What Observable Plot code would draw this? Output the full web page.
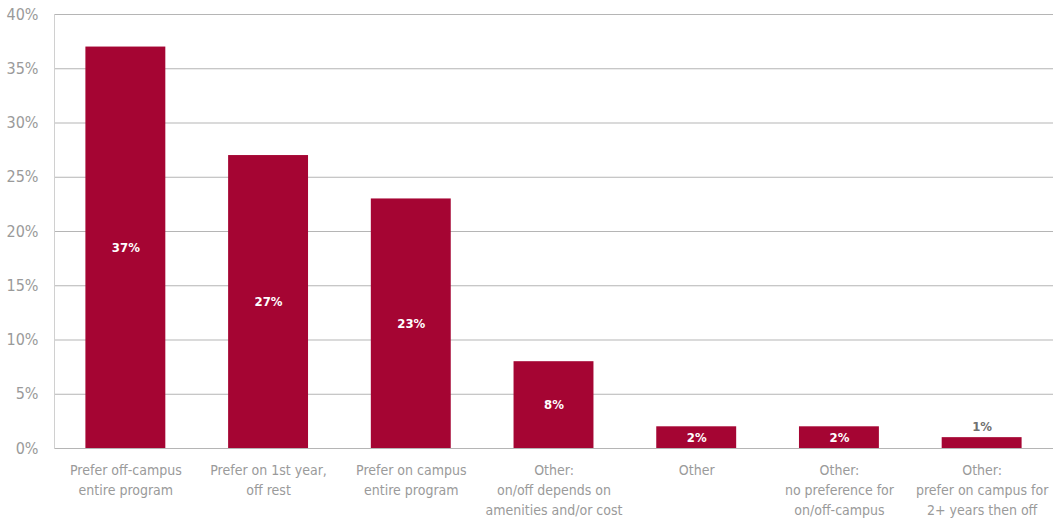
<!DOCTYPE html>
<html><head><meta charset="utf-8">
<script src="https://cdn.jsdelivr.net/npm/d3@7"></script>
<script src="https://cdn.jsdelivr.net/npm/@observablehq/plot@0.6"></script>
<style>
body{margin:0;background:#fff;}
</style></head>
<body><div id="chart"></div>
<script>
const categories = [
  "Prefer off-campus\nentire program",
  "Prefer on 1st year,\noff rest",
  "Prefer on campus\nentire program",
  "Other:\non/off depends on\namenities and/or cost",
  "Other",
  "Other:\nno preference for\non/off-campus",
  "Other:\nprefer on campus for\n2+ years then off"
];
const values = [37, 27, 23, 8, 2, 2, 1];
const yTicks = [0, 5, 10, 15, 20, 25, 30, 35, 40];

const data = categories.map((c, i) => ({cat: c, v: values[i]}));
const inside = data.filter(d => d.v >= 2);
const outside = data.filter(d => d.v < 2);

const plot = Plot.plot({
  width: 1053,
  height: 523,
  marginTop: 14,
  marginBottom: 75,
  marginLeft: 54,
  marginRight: 0,
  style: {fontFamily: "'Liberation Sans Narrow', 'DejaVu Sans Condensed', Roboto, sans-serif", background: "#fff"},
  x: {domain: categories, paddingInner: 0.44, paddingOuter: 0.22, round: false, label: null},
  y: {domain: [0, 40], label: null},
  marks: [
    Plot.ruleY(yTicks, {stroke: "#b5b5b5", strokeWidth: 1}),
    Plot.frame({anchor: "left", stroke: "#d0d0d0"}),
    Plot.barY(data, {x: "cat", y: "v", fill: "#a50533"}),
    Plot.text(inside, {x: "cat", y: d => d.v / 2, text: d => d.v + "%", fill: "white", fontWeight: "bold", fontSize: 13}),
    Plot.text(outside, {x: "cat", y: "v", dy: -11, text: d => d.v + "%", fill: "#707070", fontWeight: "bold", fontSize: 13}),
    Plot.axisY(yTicks, {tickSize: 0, tickPadding: 16, tickFormat: d => d + "%", fontSize: 16, fill: "#9a9a9a", label: null}),
    Plot.axisX({tickSize: 0, tickPadding: 12, fontSize: 14, fill: "#9a9a9a", lineHeight: 1.43, label: null})
  ]
});
document.getElementById("chart").append(plot);
</script></body></html>
